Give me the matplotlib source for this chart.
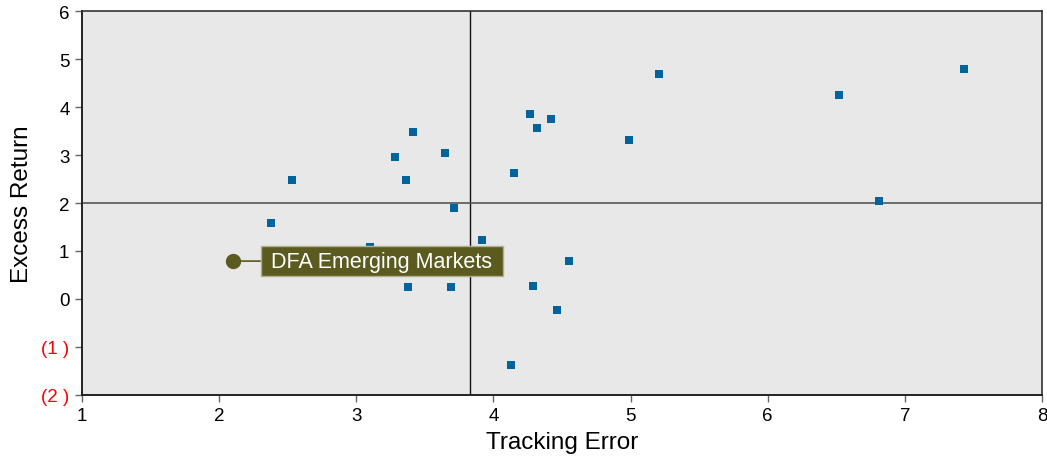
import matplotlib
matplotlib.use("Agg")
import matplotlib.pyplot as plt

plt.rcParams['font.family'] = ['Liberation Sans', 'DejaVu Sans']

# Data
tracking_error = [4.27, 4.42, 4.32, 3.41, 3.28, 3.65, 4.15, 2.53, 3.36, 3.71,
                  2.38, 3.92, 3.10, 4.55, 3.38, 3.69, 4.29, 4.46, 4.13,
                  4.99, 5.21, 6.52, 7.43, 6.81]
excess_return = [3.86, 3.74, 3.57, 3.47, 2.95, 3.05, 2.63, 2.47, 2.47, 1.90,
                 1.59, 1.22, 1.08, 0.80, 0.24, 0.24, 0.28, -0.22, -1.37,
                 3.31, 4.68, 4.24, 4.80, 2.05]
highlight_name = "DFA Emerging Markets"
highlight_x = 2.10
highlight_y = 0.79
median_x = 3.83
median_y = 2.0
x_ticks = [1, 2, 3, 4, 5, 6, 7, 8]
y_ticks = [-2, -1, 0, 1, 2, 3, 4, 5, 6]
y_tick_labels = ["(2 )", "(1 )", "0", "1", "2", "3", "4", "5", "6"]

fig = plt.figure(figsize=(10.47, 4.6), dpi=100)
ax = fig.add_axes([82/1047, 1-396/460, (1042-82)/1047, (396-12)/460])
ax.set_facecolor('#e8e8e8')

ax.axvline(median_x, color='#111111', lw=1.0, zorder=1)
ax.axhline(median_y, color='#555555', lw=1.2, zorder=1)

ax.scatter(tracking_error, excess_return, marker='s', s=34, color='#00649c',
           linewidths=0, zorder=3)

ax.plot([highlight_x], [highlight_y], 'o', ms=10, color='#5b5a1f', zorder=5)
ax.annotate(" " + highlight_name + " ", xy=(highlight_x, highlight_y),
            xytext=(23.4, 0), textcoords='offset points',
            ha='left', va='center', fontsize=15.5, color='white', zorder=6,
            bbox=dict(boxstyle='square,pad=0.2', fc='#5b5a1f', ec='#b0b090', lw=1),
            arrowprops=dict(arrowstyle='-', color='#5b5a1f', lw=1.2,
                            shrinkA=0, shrinkB=0))

ax.set_xlim(1, 8)
ax.set_ylim(-2, 6)
ax.set_xticks(x_ticks)
ax.set_xticklabels([str(t) for t in x_ticks])
ax.set_yticks(y_ticks)
ax.set_yticklabels(y_tick_labels)
for lbl, v in zip(ax.get_yticklabels(), y_ticks):
    lbl.set_color('red' if v < 0 else 'black')

ax.tick_params(axis='both', direction='out', length=5, width=1, color='#666666',
               labelsize=13.5, pad=4)
for side in ['left', 'bottom']:
    ax.spines[side].set_color('#222222')
    ax.spines[side].set_linewidth(1.4)
for side in ['top', 'right']:
    ax.spines[side].set_color('#333333')
    ax.spines[side].set_linewidth(1.2)

ax.set_xlabel('Tracking Error', fontsize=17.5, labelpad=5)
ax.set_ylabel('Excess Return', fontsize=17.5, labelpad=6)

fig.savefig('out.png', dpi=100)
